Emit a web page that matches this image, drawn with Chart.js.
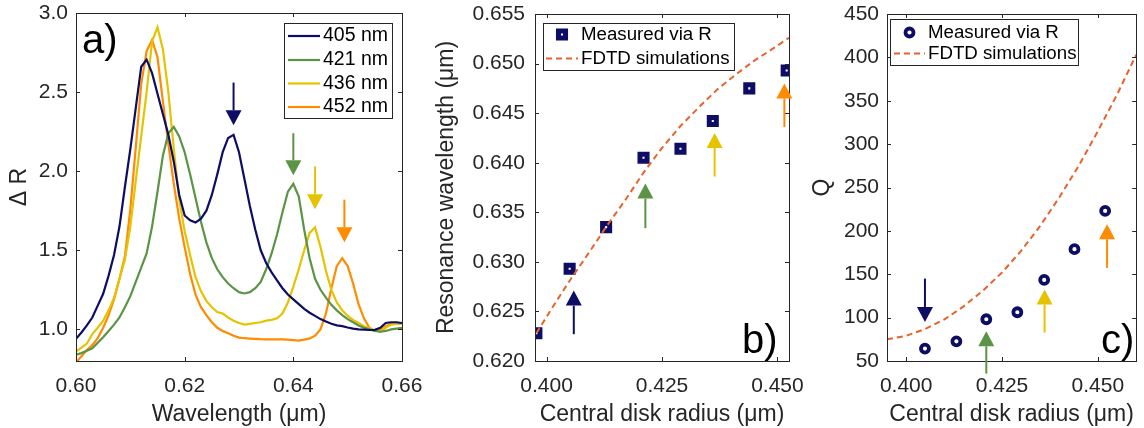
<!DOCTYPE html>
<html>
<head>
<meta charset="utf-8">
<script src="https://cdn.jsdelivr.net/npm/chart.js@4.4.1/dist/chart.umd.min.js"></script>
<style>
  body { margin: 0; background: #fff; }
  #wrap { position: relative; width: 1144px; height: 428px; }
  #wrap canvas { position: absolute; left: 0; top: 0; }
</style>
</head>
<body>
<div id="wrap">
  <canvas id="panelA" width="1144" height="428"></canvas>
  <canvas id="panelB" width="1144" height="428"></canvas>
  <canvas id="panelC" width="1144" height="428"></canvas>
</div>
<script>
// ---- a) reflectance change spectra (wavelength in um) ----
const wavelength = [
  0.600, 0.601, 0.602, 0.603, 0.604, 0.605, 0.606, 0.607, 0.608, 0.609,
  0.610, 0.611, 0.612, 0.613, 0.614, 0.615, 0.616, 0.617, 0.618, 0.619,
  0.620, 0.621, 0.622, 0.623, 0.624, 0.625, 0.626, 0.627, 0.628, 0.629,
  0.630, 0.631, 0.632, 0.633, 0.634, 0.635, 0.636, 0.637, 0.638, 0.639,
  0.640, 0.641, 0.642, 0.643, 0.644, 0.645, 0.646, 0.647, 0.648, 0.649,
  0.650, 0.651, 0.652, 0.653, 0.654, 0.655, 0.656, 0.657, 0.658, 0.659, 0.660
];
const dR405 = [
  0.94, 0.98, 1.025, 1.075, 1.15, 1.225, 1.34, 1.47, 1.65, 1.90,
  2.14, 2.40, 2.66, 2.705, 2.62, 2.49, 2.36, 2.23, 2.06, 1.85,
  1.72, 1.69, 1.675, 1.70, 1.75, 1.85, 1.98, 2.12, 2.21, 2.23,
  2.12, 1.95, 1.78, 1.63, 1.50, 1.42, 1.36, 1.31, 1.26, 1.22,
  1.19, 1.16, 1.13, 1.105, 1.085, 1.065, 1.05, 1.035, 1.025, 1.02,
  1.012, 1.005, 1.0, 0.998, 0.996, 0.997, 1.01, 1.04, 1.045, 1.045, 1.04
];
const dR421 = [
  0.84, 0.85, 0.865, 0.88, 0.915, 0.95, 0.99, 1.03, 1.075, 1.14,
  1.21, 1.30, 1.39, 1.48, 1.65, 1.87, 2.10, 2.24, 2.28, 2.22,
  2.12, 1.98, 1.83, 1.68, 1.55, 1.45, 1.38, 1.33, 1.29, 1.26,
  1.235, 1.227, 1.235, 1.26, 1.30, 1.38, 1.48, 1.60, 1.74, 1.87,
  1.92, 1.84, 1.63, 1.45, 1.32, 1.25, 1.20, 1.155, 1.12, 1.09,
  1.065, 1.045, 1.025, 1.01, 1.0, 0.99, 0.985, 0.99, 1.0, 1.005, 1.01
];
const dR436 = [
  0.86, 0.885, 0.91, 0.97, 1.01, 1.055, 1.12, 1.20, 1.32, 1.44,
  1.65, 1.94, 2.22, 2.50, 2.82, 2.91, 2.77, 2.50, 2.14, 1.82,
  1.62, 1.47, 1.33, 1.24, 1.18, 1.14, 1.11, 1.10, 1.075, 1.055,
  1.04, 1.03, 1.035, 1.04, 1.045, 1.055, 1.06, 1.07, 1.10, 1.17,
  1.27, 1.38, 1.50, 1.61, 1.645, 1.52, 1.37, 1.25, 1.17, 1.12,
  1.085, 1.06, 1.04, 1.02, 1.008, 0.995, 0.985, 1.01, 1.03, 1.035, 1.035
];
const dR452 = [
  0.79, 0.83, 0.87, 0.90, 0.945, 1.01, 1.09, 1.19, 1.32, 1.46,
  1.76, 2.15, 2.55, 2.76, 2.83, 2.72, 2.44, 2.17, 1.92, 1.70,
  1.52, 1.35, 1.22, 1.14, 1.09, 1.045, 1.01, 0.99, 0.975, 0.96,
  0.948, 0.944, 0.942, 0.94, 0.938, 0.937, 0.937, 0.937, 0.937, 0.935,
  0.932, 0.929, 0.935, 0.943, 0.96, 1.0, 1.10, 1.26, 1.40, 1.45,
  1.40, 1.29, 1.16, 1.07, 1.01, 0.99, 0.995, 1.02, 1.035, 1.04, 1.04
];
const spectraLabels = ['405 nm', '421 nm', '436 nm', '452 nm'];
const spectraColors = ['#0d0d66', '#5a9444', '#e6c300', '#ff8b00'];

// arrows marking the second resonance of each spectrum
const arrowAX = [0.629, 0.640, 0.644, 0.6494];
const arrowATail = [2.56, 2.24, 2.03, 1.82];
const arrowATip = [2.29, 1.975, 1.76, 1.55];

// ---- b) resonance wavelength vs central disk radius (um) ----
const radius = [0.3978, 0.4050, 0.4129, 0.4210, 0.4290, 0.4360, 0.4439, 0.4520];
const resWavelength = [0.6228, 0.6293, 0.6335, 0.6405, 0.6414, 0.6442, 0.6475, 0.6493];
const fdtdRadiusB = [0.3978, 0.401, 0.405, 0.409, 0.413, 0.417, 0.421, 0.425,
                     0.429, 0.433, 0.437, 0.441, 0.445, 0.449, 0.4525];
const fdtdWavelength = [0.6228, 0.6252, 0.6281, 0.6308, 0.6336, 0.6362, 0.6390, 0.6415,
                        0.6437, 0.6456, 0.6474, 0.6489, 0.6503, 0.6515, 0.6526];
const arrowBX = [0.4059, 0.4214, 0.4364, 0.4515];
const arrowBTail = [0.6227, 0.6334, 0.6386, 0.6436];
const arrowBTip = [0.6271, 0.6379, 0.6430, 0.6480];

// ---- c) quality factor vs central disk radius ----
const qRadius = [0.4049, 0.4131, 0.4209, 0.4290, 0.4360, 0.4439, 0.4519];
const qMeasured = [64.3, 72.7, 98.1, 106.2, 143.5, 178.9, 223.0];
const fdtdRadiusC = [0.395, 0.400, 0.405, 0.410, 0.415, 0.420, 0.425,
                     0.430, 0.435, 0.440, 0.445, 0.450, 0.455, 0.460];
const fdtdQ = [75, 79, 87, 98, 113, 131, 152, 177, 206, 239, 275, 315, 357, 403];
const arrowCX = [0.4049, 0.4209, 0.4361, 0.4524];
const arrowCTail = [145, 35.5, 82.8, 157.3];
const arrowCTip = [95, 84.3, 132.4, 207.7];

const FONT = "'Liberation Sans', Arial, Helvetica, sans-serif";
const INK = '#262626';
const NAVY = '#0d0d66';
const FDTD_COLOR = '#e8622c';
Chart.defaults.font.family = FONT;
Chart.defaults.color = INK;

const xy = (xs, ys) => xs.map((x, i) => ({ x, y: ys[i] }));

function axis(cfg) {
  return {
    type: 'linear',
    min: cfg.min,
    max: cfg.max,
    grid: { display: false, drawTicks: false },
    border: { display: false },
    ticks: {
      stepSize: cfg.step,
      includeBounds: false,
      autoSkip: false,
      maxRotation: 0,
      padding: cfg.pad,
      color: INK,
      font: { size: 21 },
      callback: v => v.toFixed(cfg.digits)
    },
    title: { display: true, text: cfg.title, color: INK, font: { size: 23 }, padding: cfg.titlePad },
    afterFit: s => {
      if (s.isHorizontal()) s.height = cfg.size; else s.width = cfg.size;
      s.paddingLeft = s.paddingRight = s.paddingTop = s.paddingBottom = 0;
    }
  };
}

function arrow(ctx, x, y0, y1, color) {
  const dir = Math.sign(y1 - y0);
  const head = 15, half = 8;
  ctx.strokeStyle = color;
  ctx.lineWidth = 2;
  ctx.beginPath();
  ctx.moveTo(x, y0);
  ctx.lineTo(x, y1 - dir * head);
  ctx.stroke();
  ctx.fillStyle = color;
  ctx.beginPath();
  ctx.moveTo(x - half, y1 - dir * head);
  ctx.lineTo(x + half, y1 - dir * head);
  ctx.lineTo(x, y1);
  ctx.closePath();
  ctx.fill();
}

// box, inward ticks, arrows, legend and panel letter
const framePlugin = {
  id: 'frame',
  afterDraw(chart, args, opts) {
    const ctx = chart.ctx;
    const { left, right, top, bottom } = chart.chartArea;
    const xs = chart.scales.x, ys = chart.scales.y;
    ctx.save();

    ctx.strokeStyle = INK;
    ctx.lineWidth = 1;
    ctx.strokeRect(Math.round(left) + 0.5, Math.round(top) + 0.5,
                   Math.round(right - left), Math.round(bottom - top));
    const tl = 4;
    ctx.beginPath();
    xs.ticks.forEach(t => {
      const p = Math.round(xs.getPixelForValue(t.value)) + 0.5;
      ctx.moveTo(p, bottom); ctx.lineTo(p, bottom - tl);
      ctx.moveTo(p, top); ctx.lineTo(p, top + tl);
    });
    ys.ticks.forEach(t => {
      const p = Math.round(ys.getPixelForValue(t.value)) + 0.5;
      ctx.moveTo(left, p); ctx.lineTo(left + tl, p);
      ctx.moveTo(right, p); ctx.lineTo(right - tl, p);
    });
    ctx.stroke();

    const ar = opts.arrows;
    ar.x.forEach((v, i) => {
      arrow(ctx, xs.getPixelForValue(v), ys.getPixelForValue(ar.tail[i]),
            ys.getPixelForValue(ar.tip[i]), spectraColors[i]);
    });

    const lg = opts.legend;
    ctx.fillStyle = '#fff';
    ctx.fillRect(lg.x, lg.y, lg.w, lg.h);
    ctx.strokeStyle = INK;
    ctx.lineWidth = 1;
    ctx.strokeRect(lg.x + 0.5, lg.y + 0.5, lg.w, lg.h);
    ctx.font = lg.size + 'px ' + FONT;
    ctx.textBaseline = 'middle';
    ctx.textAlign = 'left';
    chart.data.datasets.forEach((ds, i) => {
      const y = lg.rows[i];
      if (ds.showLine) {
        ctx.strokeStyle = ds.borderColor;
        ctx.lineWidth = ds.borderWidth;
        ctx.setLineDash(ds.borderDash || []);
        ctx.beginPath();
        ctx.moveTo(lg.sample[0], y);
        ctx.lineTo(lg.sample[1], y);
        ctx.stroke();
        ctx.setLineDash([]);
      } else {
        ctx.fillStyle = ds.backgroundColor;
        ctx.strokeStyle = ds.borderColor;
        ctx.lineWidth = ds.borderWidth;
        Chart.helpers.drawPoint(ctx, {
          pointStyle: ds.pointStyle, radius: ds.pointRadius,
          borderWidth: ds.borderWidth, rotation: 0
        }, (lg.sample[0] + lg.sample[1]) / 2, y);
      }
      ctx.fillStyle = '#000';
      ctx.fillText(ds.label, lg.textX, y);
    });

    ctx.font = '40px ' + FONT;
    ctx.textBaseline = 'alphabetic';
    ctx.fillStyle = '#000';
    ctx.fillText(opts.letter.text, opts.letter.x, opts.letter.y);
    ctx.restore();
  }
};

function baseOptions(pad, scales, frame) {
  return {
    responsive: false,
    devicePixelRatio: 1,
    animation: false,
    events: [],
    layout: { padding: pad },
    plugins: { legend: { display: false }, tooltip: { enabled: false }, frame },
    scales
  };
}

// a)
new Chart(document.getElementById('panelA'), {
  type: 'scatter',
  data: {
    datasets: [dR405, dR421, dR436, dR452].map((ys, i) => ({
      label: spectraLabels[i],
      data: xy(wavelength, ys),
      showLine: true,
      borderColor: spectraColors[i],
      backgroundColor: spectraColors[i],
      borderWidth: 2.2,
      pointRadius: 0,
      tension: 0
    }))
  },
  options: baseOptions({ left: 0, right: 742, top: 13, bottom: 0 }, {
    x: axis({ min: 0.60, max: 0.66, step: 0.02, digits: 2, pad: 13, size: 67,
              title: 'Wavelength (\u03bcm)', titlePad: { bottom: 0 } }),
    y: axis({ min: 0.8, max: 3.0, step: 0.5, digits: 1, pad: 8, size: 76,
              title: '\u0394 R', titlePad: { top: 6 } })
  }, {
    arrows: { x: arrowAX, tail: arrowATail, tip: arrowATip },
    legend: { x: 284, y: 23, w: 108, h: 95, rows: [36, 60, 83.5, 107],
              sample: [288, 320], textX: 323, size: 19.5 },
    letter: { text: 'a)', x: 82, y: 53 }
  }),
  plugins: [framePlugin]
});

// b)
new Chart(document.getElementById('panelB'), {
  type: 'scatter',
  data: {
    datasets: [{
      label: 'Measured via R',
      data: xy(radius, resWavelength),
      pointStyle: 'rect',
      pointRadius: 5,
      borderWidth: 5,
      borderColor: NAVY,
      backgroundColor: '#fff',
      order: 1
    }, {
      label: 'FDTD simulations',
      data: xy(fdtdRadiusB, fdtdWavelength),
      showLine: true,
      borderColor: FDTD_COLOR,
      backgroundColor: FDTD_COLOR,
      borderWidth: 2,
      borderDash: [6, 4],
      pointRadius: 0,
      order: 0
    }]
  },
  options: baseOptions({ left: 420, right: 355, top: 14, bottom: 0 }, {
    x: axis({ min: 0.3975, max: 0.4525, step: 0.025, digits: 3, pad: 13, size: 67,
              title: 'Central disk radius (\u03bcm)', titlePad: { bottom: 0 } }),
    y: axis({ min: 0.620, max: 0.655, step: 0.005, digits: 3, pad: 10, size: 115,
              title: 'Resonance wavelength (\u03bcm)', titlePad: { top: 13 } })
  }, {
    arrows: { x: arrowBX, tail: arrowBTail, tip: arrowBTip },
    legend: { x: 543, y: 23, w: 191, h: 47, rows: [34.5, 58.5],
              sample: [546, 578], textX: 581, size: 18.7 },
    letter: { text: 'b)', x: 742, y: 353 }
  }),
  plugins: [framePlugin]
});

// c)
new Chart(document.getElementById('panelC'), {
  type: 'scatter',
  data: {
    datasets: [{
      label: 'Measured via R',
      data: xy(qRadius, qMeasured),
      pointStyle: 'circle',
      pointRadius: 4,
      borderWidth: 3.8,
      borderColor: NAVY,
      backgroundColor: '#fff',
      order: 1
    }, {
      label: 'FDTD simulations',
      data: xy(fdtdRadiusC, fdtdQ),
      showLine: true,
      borderColor: FDTD_COLOR,
      backgroundColor: FDTD_COLOR,
      borderWidth: 2,
      borderDash: [6, 4],
      pointRadius: 0,
      order: 0
    }]
  },
  options: baseOptions({ left: 800, right: 1, top: 14, bottom: 0 }, {
    x: axis({ min: 0.395, max: 0.46, step: 0.025, digits: 3, pad: 13, size: 67,
              title: 'Central disk radius (\u03bcm)', titlePad: { bottom: 0 } }),
    y: axis({ min: 50, max: 450, step: 50, digits: 0, pad: 8, size: 87,
              title: 'Q', titlePad: { top: 9 } })
  }, {
    arrows: { x: arrowCX, tail: arrowCTail, tip: arrowCTip },
    legend: { x: 890, y: 19, w: 188, h: 46, rows: [32.5, 53.5],
              sample: [894, 925], textX: 928, size: 18.7 },
    letter: { text: 'c)', x: 1101, y: 353 }
  }),
  plugins: [framePlugin]
});
</script>
</body>
</html>
